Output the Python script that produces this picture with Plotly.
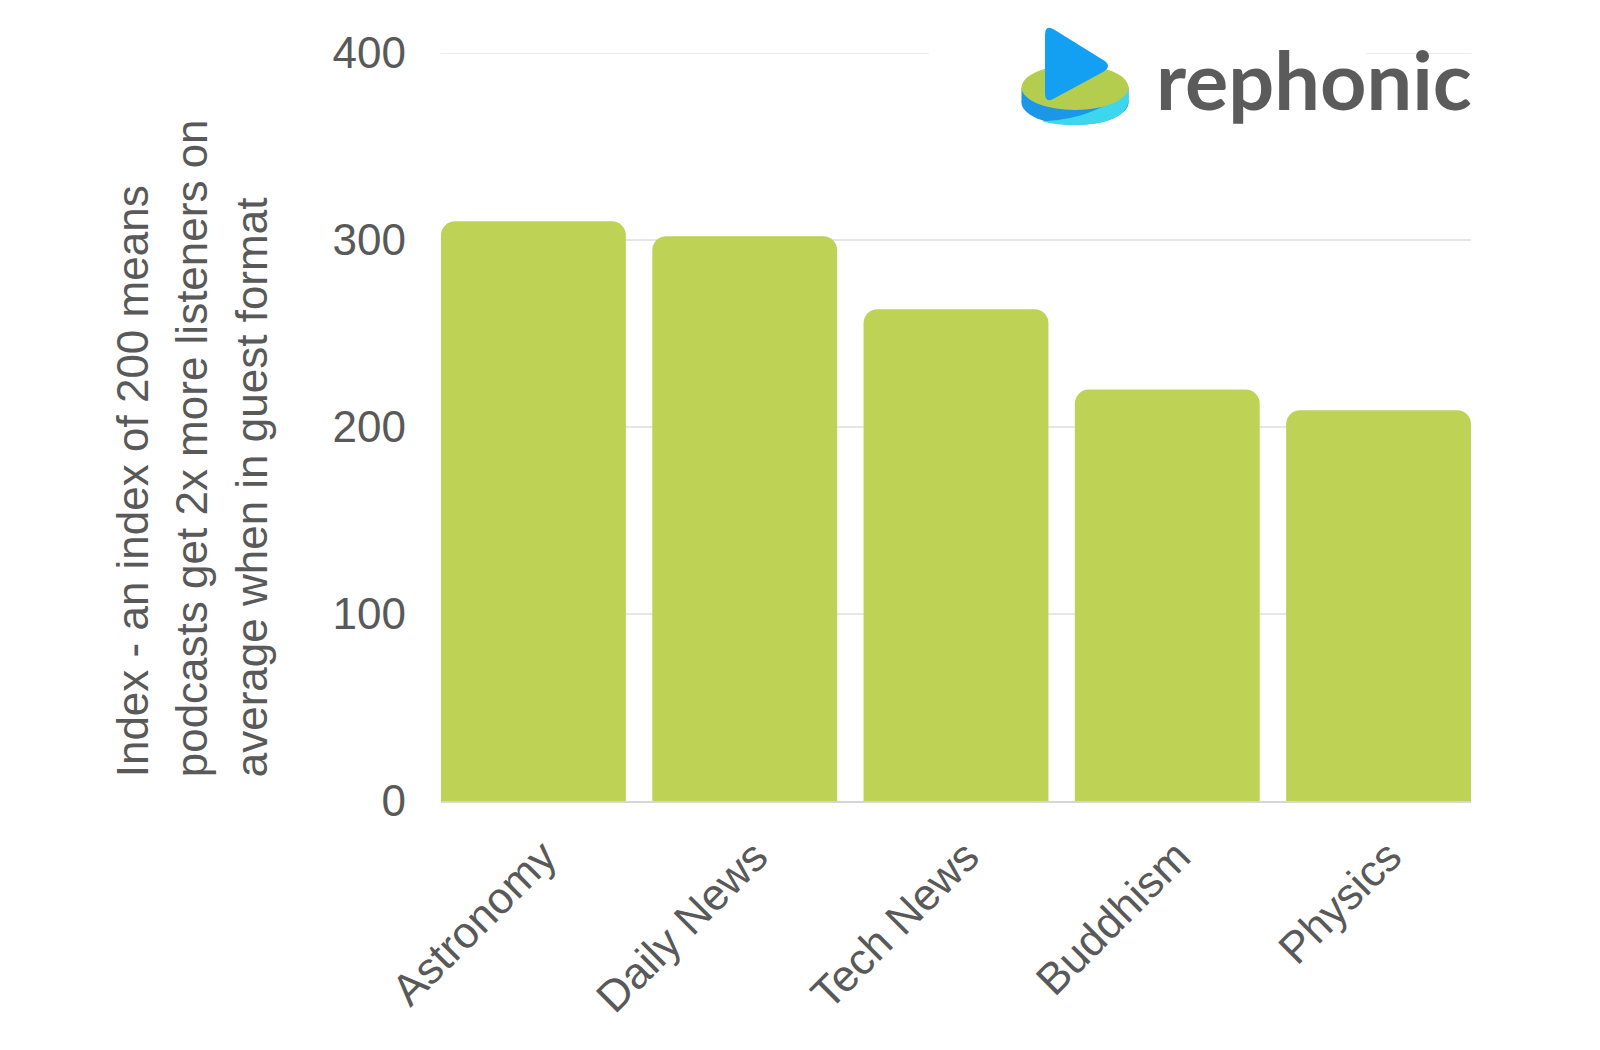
import plotly.graph_objects as go

categories = ["Astronomy", "Daily News", "Tech News", "Buddhism", "Physics"]
index_values = [310, 302, 263, 220, 209]
y_ticks = [0, 100, 200, 300, 400]
title_lines = [
    "Index - an index of 200 means",
    "podcasts get 2x more listeners on",
    "average when in guest format",
]
brand = "rephonic"

W_FIG, H_FIG = 1600, 1050
# plot area in reference pixel coordinates
L, R, T, B = 441, 1471, 52.5, 800.7
PW, PH = R - L, B - T
SHIFT = 8  # page offset compensation


def px(x):
    return (x - L) / PW


def py(y):
    return (B - y) / PH


BAR = "#BED356"
TXT = "#595959"

fig = go.Figure()
fig.add_trace(go.Bar(
    x=categories, y=index_values, marker=dict(color=BAR, line=dict(width=0)),
    hoverinfo="x+y",
))

shapes = []
# top gridline (y = 400)
shapes.append(dict(type="line", xref="paper", yref="y", layer="below",
                   x0=0, x1=1, y0=y_ticks[-1], y1=y_ticks[-1],
                   line=dict(color="#E6E6E6", width=1.5)))
# white backdrop of the logo (hides the gridline)
shapes.append(dict(type="rect", xref="paper", yref="paper", layer="above",
                   x0=px(929), x1=px(1366), y0=py(18), y1=py(135),
                   fillcolor="white", line=dict(width=0)))
# disk bottom (blue)
shapes.append(dict(type="circle", xref="paper", yref="paper", layer="above",
                   x0=px(1021.5), x1=px(1128.5), y0=py(124.5), y1=py(79.5),
                   fillcolor="#1C96E6", line=dict(width=0)))
shapes.append(dict(type="rect", xref="paper", yref="paper", layer="above",
                   x0=px(1021.5), x1=px(1128.5), y0=py(102), y1=py(87),
                   fillcolor="#1C96E6", line=dict(width=0)))
# cyan swoosh
cy = (f"M {px(1128.5)},{py(86)} L {px(1128.5)},{py(102)} "
      f"Q {px(1123)},{py(124)} {px(1075)},{py(124.5)} "
      f"Q {px(1055)},{py(124.5)} {px(1042)},{py(121)} "
      f"Q {px(1100)},{py(118)} {px(1128.5)},{py(86)} Z")
shapes.append(dict(type="path", xref="paper", yref="paper", layer="above",
                   path=cy, fillcolor="#3CD6EE", line=dict(width=0)))
# green top
shapes.append(dict(type="circle", xref="paper", yref="paper", layer="above",
                   x0=px(1021.5), x1=px(1128.5), y0=py(109.5), y1=py(64.5),
                   fillcolor="#B5CD4F", line=dict(width=0)))
# play triangle (rounded)
tri = (f"M {px(1045)},{py(34)} Q {px(1045)},{py(24)} {px(1054)},{py(29)} "
       f"L {px(1104)},{py(60)} Q {px(1112)},{py(65.5)} {px(1104)},{py(71)} "
       f"L {px(1054)},{py(98)} Q {px(1045)},{py(103)} {px(1045)},{py(93)} Z")
shapes.append(dict(type="path", xref="paper", yref="paper", layer="above",
                   path=tri, fillcolor="#14A0F2", line=dict(width=0)))

annotations = []
title_x = [132, 191, 251]
for line, xc in zip(title_lines, title_x):
    annotations.append(dict(
        text=line, xref="paper", yref="paper", x=px(xc), y=py(779),
        xanchor="center", yanchor="bottom", textangle=-90, showarrow=False,
        font=dict(family="Liberation Sans, Arial", size=44, color=TXT),
    ))
annotations.append(dict(
    text=brand, xref="paper", yref="paper", x=px(1154), y=py(78),
    xanchor="left", yanchor="middle", showarrow=False,
    font=dict(family="Lato", size=81, color="#5B5B5B", weight="bold"),
))

fig.update_layout(
    width=W_FIG, height=H_FIG,
    margin=dict(l=L - SHIFT, r=W_FIG - R + SHIFT, t=T - SHIFT,
                b=H_FIG - B + SHIFT, pad=0),
    paper_bgcolor="white", plot_bgcolor="white",
    bargap=0.125, barcornerradius=14, showlegend=False,
    shapes=shapes, annotations=annotations,
    font=dict(family="Liberation Sans, Arial", size=44, color=TXT),
    xaxis=dict(
        range=[-0.4375, 4.4375], tickangle=-45, showgrid=False,
        showline=True, linecolor="#D6D6D6", linewidth=2,
        ticks="", ticklabelstandoff=10, ticklabelshift=10,
        tickfont=dict(size=44, color=TXT), zeroline=False,
    ),
    yaxis=dict(
        range=[0, 400], tickvals=y_ticks, showgrid=True,
        gridcolor="#E6E6E6", gridwidth=1.5, zeroline=False,
        showline=False, ticks="", ticklabelstandoff=34,
        tickfont=dict(size=44, color=TXT),
    ),
)

fig.write_html("out.html")
